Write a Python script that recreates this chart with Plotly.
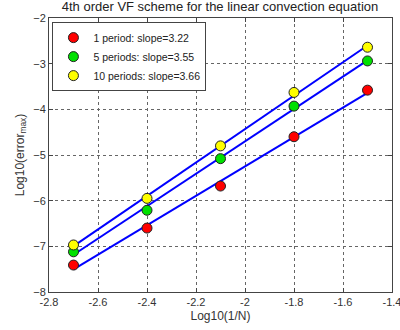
import numpy as np
import plotly.graph_objects as go

x_vals = [-2.7, -2.4, -2.1, -1.8, -1.5]
err_1 = [-7.41, -6.60, -5.68, -4.60, -3.58]
err_5 = [-7.12, -6.21, -5.08, -3.93, -2.94]
err_10 = [-6.97, -5.95, -4.80, -3.63, -2.64]
labels = ["1 period: slope=3.22", "5 periods: slope=3.55", "10 periods: slope=3.66"]
colors = ["#ff0000", "#00e000", "#ffff00"]
x_ticks = [-2.8, -2.6, -2.4, -2.2, -2.0, -1.8, -1.6, -1.4]
x_ticktext = ["-2.8", "-2.6", "-2.4", "-2.2", "-2", "-1.8", "-1.6", "-1.4"]
y_ticks = [-8, -7, -6, -5, -4, -3, -2]

fig = go.Figure()
series = [err_1, err_5, err_10]
xa = np.array(x_vals)
for ys in series:
    p = np.polyfit(xa, np.array(ys), 1)
    fig.add_trace(go.Scatter(x=x_vals, y=list(np.polyval(p, xa)), mode="lines",
                             line=dict(color="#0000ff", width=2), showlegend=False,
                             hoverinfo="skip"))
for ys, lab, c in zip(series, labels, colors):
    fig.add_trace(go.Scatter(x=x_vals, y=ys, mode="markers", name=lab,
                             marker=dict(color=c, size=10, line=dict(color="#222", width=1))))

font = "Liberation Sans, Arial, sans-serif"
axis_common = dict(showline=True, linecolor="#444", linewidth=1, mirror="ticks",
                   ticks="inside", ticklen=4, tickcolor="#444",
                   showgrid=True, gridcolor="#666", griddash="dot", gridwidth=1,
                   zeroline=False, ticklabeloverflow="allow", automargin=False,
                   tickfont=dict(size=11, color="#333", family=font))
fig.update_xaxes(range=[-2.8, -1.39999], tickvals=x_ticks, ticktext=x_ticktext,
                 title=dict(text="Log10(1/N)", font=dict(size=12, color="#333", family=font), standoff=4),
                 **axis_common)
fig.update_yaxes(range=[-8, -2], tickvals=y_ticks,
                 title=dict(text="Log10(error<sub>max</sub>)", font=dict(size=12, color="#333", family=font), standoff=6),
                 **axis_common)
fig.update_layout(
    width=400, height=330,
    margin=dict(l=49, r=8, t=18, b=38),
    paper_bgcolor="white", plot_bgcolor="white",
    title=dict(text="4th order VF scheme for the linear convection equation",
               x=0.55, xanchor="center", y=0.995, yanchor="top",
               font=dict(size=13, color="#222", family=font)),
    legend=dict(x=0.01, y=0.985, xanchor="left", yanchor="top",
                bgcolor="white", bordercolor="#444", borderwidth=1,
                font=dict(size=10.5, color="#222", family=font),
                tracegroupgap=0, itemwidth=30),
    showlegend=True,
)
fig.write_html("out.html")
